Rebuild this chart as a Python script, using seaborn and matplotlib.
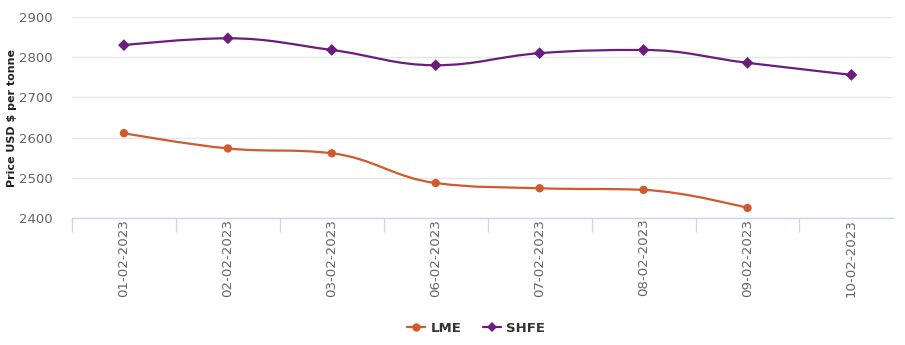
import numpy as np
import pandas as pd
import matplotlib
matplotlib.use("Agg")
import matplotlib.pyplot as plt
import seaborn as sns
from matplotlib.path import Path
from matplotlib.patches import PathPatch
from matplotlib.lines import Line2D

dates = ["01-02-2023", "02-02-2023", "03-02-2023", "06-02-2023",
         "07-02-2023", "08-02-2023", "09-02-2023", "10-02-2023"]
lme = [2611, 2573, 2561, 2487, 2474, 2470, 2425, np.nan]
shfe = [2830, 2847, 2818, 2780, 2810, 2818, 2786, 2756]
series_names = ["LME", "SHFE"]
colors = {"LME": "#cf5a2c", "SHFE": "#6b1d7c"}
markers = {"LME": "o", "SHFE": "D"}
yticks = [2400, 2500, 2600, 2700, 2800, 2900]

def spline_path(xs, ys, smoothing=1.5):
    denom = smoothing + 1
    n = len(xs)
    left = [None] * n
    right = [None] * n
    for i in range(1, n - 1):
        px, py = xs[i], ys[i]
        lx, ly = xs[i - 1], ys[i - 1]
        nx, ny = xs[i + 1], ys[i + 1]
        lcx = (smoothing * px + lx) / denom
        lcy = (smoothing * py + ly) / denom
        rcx = (smoothing * px + nx) / denom
        rcy = (smoothing * py + ny) / denom
        if rcx != lcx:
            corr = ((rcy - lcy) * (rcx - px)) / (rcx - lcx) + py - rcy
            lcy += corr
            rcy += corr
        if lcy > max(ly, py):
            lcy = max(ly, py); rcy = 2 * py - lcy
        elif lcy < min(ly, py):
            lcy = min(ly, py); rcy = 2 * py - lcy
        if rcy > max(py, ny):
            rcy = max(py, ny); lcy = 2 * py - rcy
        elif rcy < min(py, ny):
            rcy = min(py, ny); lcy = 2 * py - rcy
        left[i] = (lcx, lcy)
        right[i] = (rcx, rcy)
    verts = [(xs[0], ys[0])]
    codes = [Path.MOVETO]
    for i in range(1, n):
        c1 = right[i - 1] if right[i - 1] is not None else (xs[i - 1], ys[i - 1])
        c2 = left[i] if left[i] is not None else (xs[i], ys[i])
        verts += [c1, c2, (xs[i], ys[i])]
        codes += [Path.CURVE4] * 3
    return Path(verts, codes)

rows = []
for name, vals in zip(series_names, [lme, shfe]):
    for i, v in enumerate(vals):
        rows.append({"idx": i, "date": dates[i], "series": name, "price": v})
df = pd.DataFrame(rows).dropna()

sns.set_theme(style="white")
plt.rcParams["font.family"] = ["DejaVu Sans"]

fig = plt.figure(figsize=(9.05, 3.45), dpi=100)
ax = fig.add_axes([72 / 905, 1 - 218 / 345, (893 - 72) / 905, (218 - 17) / 345])

for name in series_names:
    sub = df[df["series"] == name].sort_values("idx")
    p = spline_path(list(sub["idx"].astype(float)), list(sub["price"].astype(float)))
    ax.add_patch(PathPatch(p, facecolor="none", edgecolor=colors[name], lw=1.6, zorder=3))

sns.scatterplot(data=df, x="idx", y="price", hue="series", style="series",
                palette=colors, markers=markers, s=36, edgecolor="none",
                legend=False, ax=ax, zorder=4)

ax.set_xlim(-0.5, len(dates) - 0.6)
ax.set_ylim(2400, 2900)
ax.set_yticks(yticks)
ax.set_yticklabels([str(t) for t in yticks], color="#666666", fontsize=9.5)
ax.grid(axis="y", color="#e6e6e6", lw=1)
ax.set_axisbelow(True)
ax.set_xticks(range(len(dates)))
ax.set_xticklabels(dates, rotation=90, color="#666666", fontsize=9.6, va="top", ha="center")
ax.set_xticks(np.arange(-0.5, len(dates) - 1), minor=True)
ax.tick_params(axis="x", which="major", length=0, pad=0.5, bottom=True)
ax.tick_params(axis="x", which="minor", length=10, color="#ccd6eb", width=1, bottom=True)
ax.tick_params(axis="y", length=0, pad=14)
for s in ["top", "right", "left"]:
    ax.spines[s].set_visible(False)
ax.spines["bottom"].set_color("#ccd6eb")
ax.spines["bottom"].set_linewidth(1)
ax.set_xlabel("")
ax.set_ylabel("Price USD $ per tonne", fontsize=8, fontweight="bold", color="#222222", labelpad=1.5)

handles = [Line2D([0], [0], color=colors[n], marker=markers[n], markersize=6 if n == "LME" else 5,
                  lw=1.6, markeredgewidth=0) for n in series_names]
fig.legend(handles, series_names, loc="center", bbox_to_anchor=(0.526, 0.049), ncol=2,
           frameon=False, handlelength=1.4, columnspacing=1.6, handletextpad=0.4,
           prop={"size": 9.5, "weight": "bold"}, labelcolor="#333333")

fig.savefig("out.png", dpi=100)
